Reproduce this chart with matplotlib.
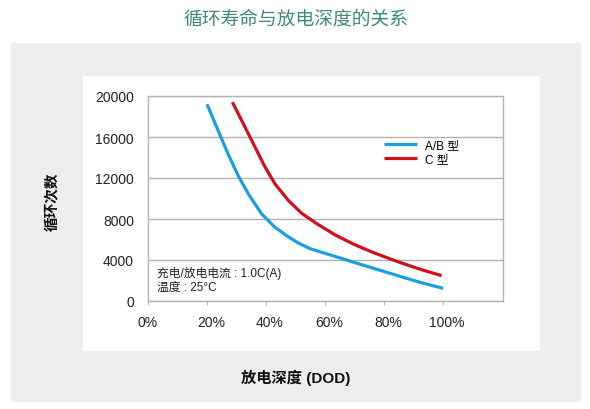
import matplotlib
matplotlib.use("Agg")
import matplotlib.pyplot as plt
import matplotlib.transforms as mtransforms
from matplotlib.patches import Rectangle

plt.rcParams['font.family'] = ['Liberation Sans', 'Noto Sans CJK SC', 'DejaVu Sans']

# depth of discharge (%) and cycle counts
dod_ab = [20, 23.8, 27.2, 30.6, 34, 38.5, 43, 47.6, 51, 55, 60, 64, 69.6, 75.3,
          80.9, 86.5, 92.2, 100]
cycles_ab = [19200, 16600, 14300, 12200, 10450, 8500, 7200, 6250, 5650, 5100,
             4650, 4300, 3790, 3290, 2800, 2310, 1820, 1240]

dod_c = [28.6, 32.9, 36.3, 39.7, 43.1, 47.6, 52.1, 57.7, 63.4, 69.6, 75.3,
         80.9, 86.5, 92.2, 99.5]
cycles_c = [19400, 16950, 15000, 13050, 11400, 9800, 8550, 7450, 6450, 5550,
            4850, 4230, 3650, 3100, 2470]

xticks = [0, 20, 40, 60, 80, 100]
xtick_labels = ['0%', '20%', '40%', '60%', '80%', '100%']
yticks = [0, 4000, 8000, 12000, 16000, 20000]

W, H = 590, 410
fig = plt.figure(figsize=(W / 100, H / 100), dpi=100)
fig.patch.set_facecolor('white')

# grey panel and white card behind the plot
fig.patches.append(Rectangle((11 / W, (H - 403) / H), 570 / W, 359 / H,
                             transform=fig.transFigure, facecolor='#eeeeee',
                             edgecolor='none', zorder=-2))
fig.patches.append(Rectangle((83 / W, (H - 352) / H), 457 / W, 275 / H,
                             transform=fig.transFigure, facecolor='white',
                             edgecolor='none', zorder=-1))

ax = fig.add_axes([148 / W, (H - 302) / H, 355 / W, 205 / H])
ax.set_facecolor('white')

blue = '#1a9fe0'
red = '#d0111b'
ax.plot(dod_ab, cycles_ab, color=blue, lw=2.3, label='A/B 型',
        solid_capstyle='butt', solid_joinstyle='round')
ax.plot(dod_c, cycles_c, color=red, lw=2.3, label='C 型',
        solid_capstyle='butt', solid_joinstyle='round')

ax.set_xlim(0, 120.3)
ax.set_ylim(0, 20000)
ax.set_xticks(xticks)
ax.set_xticklabels(xtick_labels)
ax.set_yticks(yticks)

gridc = '#b3b3b3'
ax.grid(axis='y', color=gridc, lw=1.0)
ax.set_axisbelow(True)
for s in ax.spines.values():
    s.set_color(gridc)
    s.set_linewidth(1.0)

ax.tick_params(axis='x', length=3, color=gridc, pad=7, labelsize=10, labelcolor='#222222')
ax.tick_params(axis='y', length=0, pad=10, labelsize=10, labelcolor='#222222')

# labels sit a few pixels right of their ticks in the original
shift = mtransforms.ScaledTranslation(4 / 100, 0, fig.dpi_scale_trans)
for lab in ax.get_xticklabels()[1:]:
    lab.set_transform(lab.get_transform() + shift)

ax.legend(loc='upper left', bbox_to_anchor=(0.665, 0.79), frameon=False,
          borderpad=0, borderaxespad=0, handlelength=2.8, handletextpad=0.7,
          labelspacing=0.2, fontsize=8.5)

ax.text(0.025, 0.141, '充电/放电电流 : 1.0C(A)', transform=ax.transAxes,
        fontsize=8.5, va='center', ha='left', color='#222222')
ax.text(0.025, 0.068, '温度 : 25°C', transform=ax.transAxes,
        fontsize=8.5, va='center', ha='left', color='#222222')

fig.text(296 / W, 1 - 20 / H, '循环寿命与放电深度的关系', ha='center', va='center',
         fontsize=13.5, color='#3f8c6c')
fig.text(296 / W, 1 - 378 / H, '放电深度 (DOD)', ha='center', va='center',
         fontsize=11, fontweight='bold', color='#111111')
fig.text(53 / W, 1 - 202 / H, '循环次数', ha='center', va='center', rotation=90,
         fontsize=10.5, fontweight='bold', color='#111111')

fig.savefig('out.png', dpi=100)
